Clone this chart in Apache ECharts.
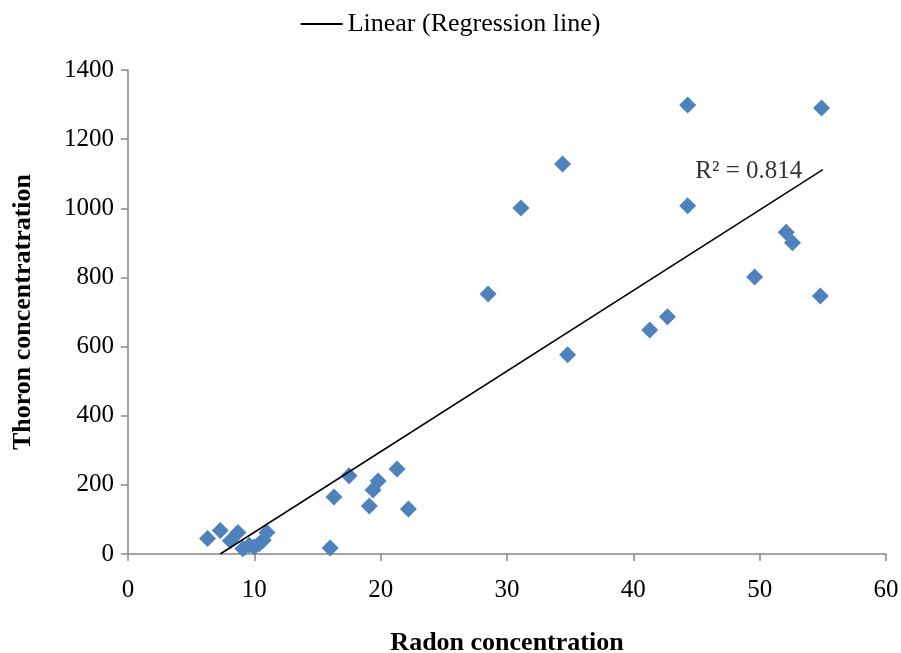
<!DOCTYPE html>
<html>
<head>
<meta charset="utf-8">
<script src="https://cdn.jsdelivr.net/npm/echarts@6/dist/echarts.min.js"></script>
<style>html,body{margin:0;padding:0;background:#fff}#c{width:901px;height:653px}</style>
</head>
<body>
<div id="c"></div>
<script>
// Observed data (Radon vs Thoron)
const radon = [6.3, 7.3, 8.1, 8.7, 9.1, 9.6, 10.0, 10.4, 10.7, 11.0,
  16.0, 16.3, 17.5, 19.1, 19.4, 19.8, 21.3, 22.2,
  28.5, 31.1, 34.4, 34.8, 41.3, 42.7, 44.3, 44.3, 49.6, 52.1, 52.6, 54.8, 54.9];
const thoron = [45, 68, 38, 62, 15, 25, 20, 30, 40, 62,
  17, 165, 226, 139, 185, 211, 246, 130,
  752, 1001, 1128, 576, 648, 686, 1299, 1007, 801, 931, 900, 746, 1290];
// Regression line end points
const trendX = [7.3, 55.0];
const trendY = [0, 1112];
const xTicks = [0, 10, 20, 30, 40, 50, 60];
const yTicks = [0, 200, 400, 600, 800, 1000, 1200, 1400];
const r2Label = 'R² = 0.814';

const pts = radon.map((x, i) => [x, thoron[i]]);
const trend = trendX.map((x, i) => [x, trendY[i]]);
const serif = '"Liberation Serif", "Times New Roman", serif';

const chart = echarts.init(document.getElementById('c'));
chart.setOption({
  animation: false,
  backgroundColor: '#fff',
  textStyle: { fontFamily: serif },
  legend: {
    top: 6, left: 'center',
    data: [{ name: 'Linear (Regression line)', icon: 'rect' }],
    itemWidth: 42, itemHeight: 2, itemGap: 5,
    textStyle: { fontFamily: serif, fontSize: 26, color: '#000' }
  },
  grid: { left: 128, right: 15, top: 70, bottom: 99, containLabel: false, outerBoundsMode: 'none' },
  xAxis: {
    type: 'value', min: xTicks[0], max: xTicks[xTicks.length - 1], interval: 10,
    name: 'Radon concentration', nameLocation: 'middle', nameGap: 76,
    nameTextStyle: { fontFamily: serif, fontSize: 26, fontWeight: 'bold', color: '#000' },
    axisLine: { lineStyle: { color: '#868686', width: 1.5 } },
    axisTick: { show: true, length: 7, lineStyle: { color: '#868686', width: 1.5 } },
    axisLabel: { fontFamily: serif, fontSize: 25, color: '#000', margin: 24 },
    splitLine: { show: false }
  },
  yAxis: {
    type: 'value', min: yTicks[0], max: yTicks[yTicks.length - 1], interval: 200,
    name: 'Thoron concentratration', nameLocation: 'middle', nameGap: 92, nameRotate: 90,
    nameTextStyle: { fontFamily: serif, fontSize: 26, fontWeight: 'bold', color: '#000' },
    axisLine: { show: true, lineStyle: { color: '#868686', width: 1.5 } },
    axisTick: { show: true, length: 7, lineStyle: { color: '#868686', width: 1.5 } },
    axisLabel: { fontFamily: serif, fontSize: 25, color: '#000', margin: 14, formatter: v => String(v) },
    splitLine: { show: false }
  },
  series: [
    {
      name: 'Regression data', type: 'scatter', data: pts,
      symbol: 'diamond', symbolSize: 17,
      itemStyle: { color: '#4F81BD', opacity: 1 }, z: 2
    },
    {
      name: 'Linear (Regression line)', type: 'line', data: trend,
      symbol: 'none', lineStyle: { color: '#000', width: 1.5 }, itemStyle: { color: '#000' }, z: 3
    },
    {
      name: 'R2', type: 'scatter', data: [[trendX[1], trendY[1]]],
      symbolSize: 1, itemStyle: { color: 'rgba(0,0,0,0)' }, silent: true, z: 4,
      label: { show: true, formatter: r2Label, position: 'left', distance: 20, offset: [0, 2],
        fontFamily: serif, fontSize: 25, color: '#000' }
    }
  ]
});
</script>
</body>
</html>
